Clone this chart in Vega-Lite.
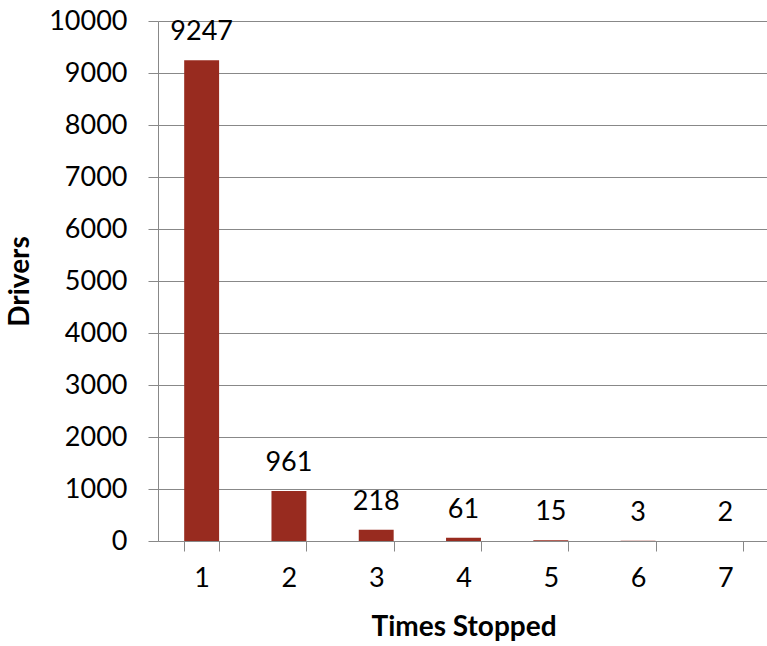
{
  "$schema": "https://vega.github.io/schema/vega-lite/v6.json",
  "width": 611,
  "height": 520,
  "autosize": "none",
  "padding": {"left": 158, "top": 21, "right": 0, "bottom": 105},
  "background": "white",
  "config": {"view": {"stroke": null}, "font": "Lato"},
  "data": {"values": [
    {"stops": "1", "drivers": 9247},
    {"stops": "2", "drivers": 961},
    {"stops": "3", "drivers": 218},
    {"stops": "4", "drivers": 61},
    {"stops": "5", "drivers": 15},
    {"stops": "6", "drivers": 3},
    {"stops": "7", "drivers": 2}
  ]},
  "encoding": {
    "x": {
      "field": "stops", "type": "nominal", "title": "Times Stopped",
      "scale": {"paddingInner": 0.6, "paddingOuter": 0.3},
      "axis": {"labelAngle": 0, "labelFont": "Lato", "labelFontSize": 27, "labelColor": "black", "labelPadding": 14,
        "tickBand": "extent", "tickSize": 10, "tickColor": "#888888", "domainColor": "#888888",
        "titleFont": "Lato", "titleFontSize": 28, "titleFontWeight": "bold", "titleColor": "black", "titlePadding": 22}
    },
    "y": {
      "field": "drivers", "type": "quantitative", "title": "Drivers",
      "scale": {"domain": [0, 10000], "nice": false},
      "axis": {"values": [0,1000,2000,3000,4000,5000,6000,7000,8000,9000,10000], "format": "d", "labelFont": "Lato", "labelFontSize": 27, "labelColor": "black",
        "labelPadding": 21, "tickSize": 10, "tickColor": "#888888", "domainColor": "#888888", "gridColor": "#888888", "gridOpacity": 1,
        "titleFont": "Lato", "titleFontSize": 28, "titleFontWeight": "bold", "titleColor": "black", "titlePadding": 14}
    }
  },
  "layer": [
    {"mark": {"type": "bar", "color": "#982B1F"}},
    {"mark": {"type": "text", "baseline": "alphabetic", "dy": -20, "fontSize": 27, "font": "Lato", "color": "black"},
     "encoding": {"text": {"field": "drivers", "type": "quantitative", "format": "d"}}}
  ]
}
